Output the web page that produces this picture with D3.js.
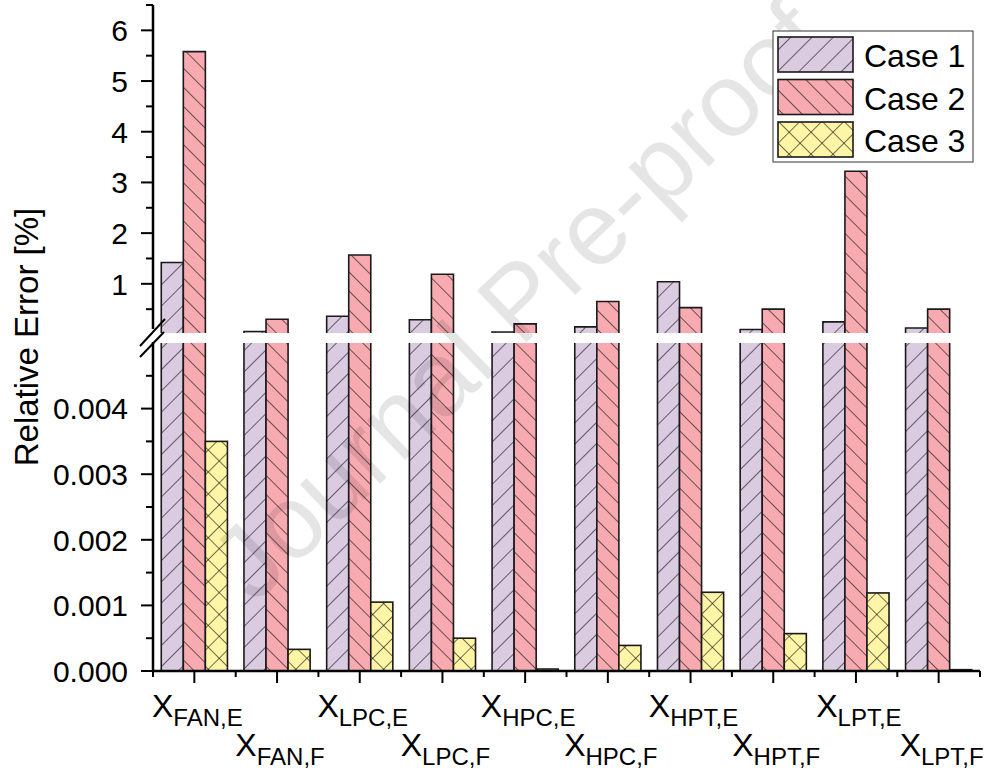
<!DOCTYPE html>
<html lang="en">
<head>
    <meta charset="UTF-8">
    <title>Relative Error by Case</title>
    <script src="https://cdn.jsdelivr.net/npm/d3@7"></script>
    <style>
        body { margin: 0; background: white; font-family: "Liberation Sans", Arial, sans-serif; }
        svg text { font-family: "Liberation Sans", Arial, sans-serif; fill: #000; }
    </style>
</head>
<body>
<script>
    // data
    var categories = ["FAN,E", "FAN,F", "LPC,E", "LPC,F", "HPC,E", "HPC,F", "HPT,E", "HPT,F", "LPT,E", "LPT,F"];
    var seriesNames = ["Case 1", "Case 2", "Case 3"];
    var case1 = [1.42, 0.06, 0.36, 0.29, 0.05, 0.15, 1.04, 0.10, 0.25, 0.13];
    var case2 = [5.58, 0.30, 1.57, 1.19, 0.21, 0.65, 0.53, 0.50, 3.22, 0.50];
    var case3 = [0.0035, 0.00033, 0.00105, 0.0005, 0.00003, 0.00039, 0.0012, 0.00057, 0.00119, 0.00002];
    var upperTicks = [1, 2, 3, 4, 5, 6];
    var lowerTicks = [0, 0.001, 0.002, 0.003, 0.004];

    var series = [case1, case2, case3];
    var fills = ["#dacbe1", "#f8aab1", "#fff5a6"];

    var width = 990, height = 775;
    var x0 = 153, x1 = 980;

    var svg = d3.select("body").append("svg")
        .attr("width", width)
        .attr("height", height);

    // hatch patterns
    var defs = svg.append("defs");
    var patSpec = [
        { angle: 45, size: 15, cross: false },
        { angle: -45, size: 13.5, cross: false },
        { angle: 45, size: 15.5, cross: true }
    ];
    patSpec.forEach(function (p, i) {
        var pat = defs.append("pattern")
            .attr("id", "hatch" + i)
            .attr("patternUnits", "userSpaceOnUse")
            .attr("width", p.size)
            .attr("height", p.size)
            .attr("patternTransform", "rotate(" + p.angle + ")");
        pat.append("rect").attr("width", p.size).attr("height", p.size).attr("fill", fills[i]);
        pat.append("line").attr("x1", 0).attr("y1", 0).attr("x2", 0).attr("y2", p.size)
            .attr("stroke", "#111").attr("stroke-width", 1.2);
        if (p.cross) {
            pat.append("line").attr("x1", 0).attr("y1", 0).attr("x2", p.size).attr("y2", 0)
                .attr("stroke", "#111").attr("stroke-width", 1.2);
        }
    });

    // scales: broken y axis
    var xScale = d3.scaleBand().domain(categories).range([x0, x1]).paddingInner(0.2).paddingOuter(0.1);
    var xSub = d3.scaleBand().domain(d3.range(3)).range([0, xScale.bandwidth()]);
    var yLow = d3.scaleLinear().domain([0, 0.005]).range([671, 343]);
    var yUp = d3.scaleLinear().domain([0.03, 6.5]).range([333, 5]);

    // bars
    var bars = svg.append("g");
    categories.forEach(function (c, ci) {
        series.forEach(function (s, si) {
            var v = s[ci];
            var bx = xScale(c) + xSub(si);
            var bw = xSub.bandwidth();
            var fill = "url(#hatch" + si + ")";
            // lower part
            var lowTop = yLow(Math.min(v, 0.005));
            var yb = yLow(0);
            bars.append("rect").attr("x", bx).attr("y", lowTop).attr("width", bw).attr("height", yb - lowTop)
                .attr("fill", fill);
            if (v > 0.005) {
                bars.append("path")
                    .attr("d", "M" + bx + "," + yb + "V" + lowTop + "M" + (bx + bw) + "," + lowTop + "V" + yb + "H" + bx)
                    .attr("fill", "none").attr("stroke", "#1a1a1a").attr("stroke-width", 1.6);
            } else {
                bars.append("rect").attr("x", bx).attr("y", lowTop).attr("width", bw).attr("height", yb - lowTop)
                    .attr("fill", "none").attr("stroke", "#1a1a1a").attr("stroke-width", 1.6);
            }
            // upper part
            if (v > 0.03) {
                var upTop = yUp(v);
                var upBot = yUp(0.03);
                bars.append("rect").attr("x", bx).attr("y", upTop).attr("width", bw).attr("height", upBot - upTop)
                    .attr("fill", fill);
                bars.append("path")
                    .attr("d", "M" + bx + "," + upBot + "V" + upTop + "H" + (bx + bw) + "V" + upBot)
                    .attr("fill", "none").attr("stroke", "#1a1a1a").attr("stroke-width", 1.6);
            }
        });
    });

    // watermark
    svg.append("text")
        .attr("transform", "translate(518,300) rotate(-44)")
        .attr("text-anchor", "middle")
        .attr("dy", "0.35em")
        .style("font-size", "104px")
        .style("fill", "#000")
        .style("fill-opacity", 0.1)
        .text("Journal Pre-proof");

    // y axes
    var fmtLow = d3.format(".3f");
    var upAxis = svg.append("g").attr("transform", "translate(" + x0 + ",0)");
    upAxis.append("line").attr("x1", 0).attr("x2", 0).attr("y1", 5).attr("y2", 329)
        .attr("stroke", "#000").attr("stroke-width", 2.5);
    var lowAxis = svg.append("g").attr("transform", "translate(" + x0 + ",0)");
    lowAxis.append("line").attr("x1", 0).attr("x2", 0).attr("y1", 342).attr("y2", 672)
        .attr("stroke", "#000").attr("stroke-width", 2.5);

    var upMinor = d3.range(0.5, 6.51, 1);
    upAxis.selectAll(".minor").data(upMinor).enter().append("line")
        .attr("x1", -7).attr("x2", 0).attr("y1", function (d) { return yUp(d); }).attr("y2", function (d) { return yUp(d); })
        .attr("stroke", "#000").attr("stroke-width", 2);
    upAxis.selectAll(".major").data(upperTicks).enter().append("line")
        .attr("x1", -12).attr("x2", 0).attr("y1", function (d) { return yUp(d); }).attr("y2", function (d) { return yUp(d); })
        .attr("stroke", "#000").attr("stroke-width", 2);
    upAxis.selectAll(".lbl").data(upperTicks).enter().append("text")
        .attr("x", -25).attr("y", function (d) { return yUp(d); }).attr("dy", "0.36em")
        .attr("text-anchor", "end").style("font-size", "30px")
        .text(function (d) { return d; });

    var lowMinor = d3.range(0.0005, 0.0046, 0.001);
    lowAxis.selectAll(".minor").data(lowMinor).enter().append("line")
        .attr("x1", -7).attr("x2", 0).attr("y1", function (d) { return yLow(d); }).attr("y2", function (d) { return yLow(d); })
        .attr("stroke", "#000").attr("stroke-width", 2);
    lowAxis.selectAll(".major").data(lowerTicks).enter().append("line")
        .attr("x1", -12).attr("x2", 0).attr("y1", function (d) { return yLow(d); }).attr("y2", function (d) { return yLow(d); })
        .attr("stroke", "#000").attr("stroke-width", 2);
    lowAxis.selectAll(".lbl").data(lowerTicks).enter().append("text")
        .attr("x", -25).attr("y", function (d) { return yLow(d); }).attr("dy", "0.36em")
        .attr("text-anchor", "end").style("font-size", "30px")
        .text(function (d) { return fmtLow(d); });

    // break marks
    svg.append("line").attr("x1", 140).attr("y1", 346).attr("x2", 165).attr("y2", 319)
        .attr("stroke", "#000").attr("stroke-width", 2);
    svg.append("line").attr("x1", 140).attr("y1", 357).attr("x2", 164).attr("y2", 332)
        .attr("stroke", "#000").attr("stroke-width", 2);

    // x axis
    var xAxisG = svg.append("g");
    xAxisG.append("line").attr("x1", x0 - 1).attr("x2", x1).attr("y1", 671).attr("y2", 671)
        .attr("stroke", "#000").attr("stroke-width", 2.5);
    var step = xScale.step();
    var bounds = categories.map(function (c) { return xScale(c) - step * 0.1; }).concat([x1]);
    xAxisG.selectAll(".minor").data(bounds).enter().append("line")
        .attr("x1", function (d) { return d; }).attr("x2", function (d) { return d; })
        .attr("y1", 671).attr("y2", 677).attr("stroke", "#000").attr("stroke-width", 2);
    xAxisG.selectAll(".major").data(categories).enter().append("line")
        .attr("x1", function (d) { return xScale(d) + xScale.bandwidth() / 2; })
        .attr("x2", function (d) { return xScale(d) + xScale.bandwidth() / 2; })
        .attr("y1", 671).attr("y2", 683).attr("stroke", "#000").attr("stroke-width", 2);

    var xl = xAxisG.selectAll(".xl").data(categories).enter().append("text")
        .attr("x", function (d) { return xScale(d) + xScale.bandwidth() / 2 + 3; })
        .attr("y", function (d, i) { return i % 2 === 0 ? 717 : 756; })
        .attr("text-anchor", "middle");
    xl.append("tspan").style("font-size", "32px").text("X");
    xl.append("tspan").style("font-size", "24px").attr("dy", 9).text(function (d) { return d; });

    // y title
    svg.append("text")
        .attr("transform", "translate(38,337) rotate(-90)")
        .attr("text-anchor", "middle")
        .style("font-size", "33px")
        .text("Relative Error [%]");

    // legend
    var lg = svg.append("g");
    lg.append("rect").attr("x", 773).attr("y", 31).attr("width", 200).attr("height", 131)
        .attr("fill", "white").attr("stroke", "#333").attr("stroke-width", 1);
    seriesNames.forEach(function (n, i) {
        var yy = 37 + i * 42.5;
        lg.append("rect").attr("x", 778).attr("y", yy).attr("width", 75).attr("height", 35)
            .attr("fill", "url(#hatch" + i + ")").attr("stroke", "#1a1a1a").attr("stroke-width", 1.6);
        lg.append("text").attr("x", 864).attr("y", yy + 30).style("font-size", "32px").text(n);
    });
</script>
</body>
</html>
